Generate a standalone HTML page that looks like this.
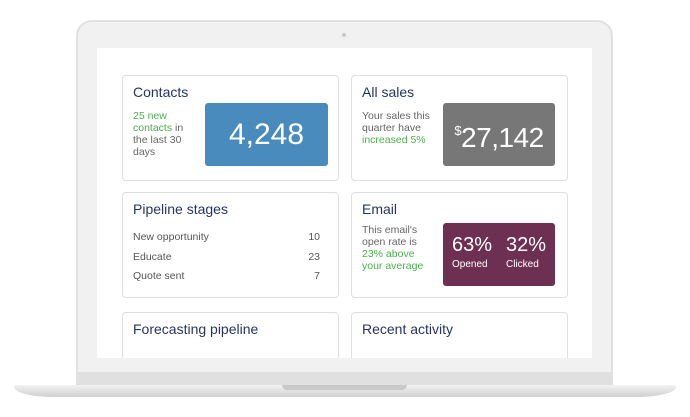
<!DOCTYPE html>
<html><head><meta charset="utf-8"><style>
*{margin:0;padding:0;box-sizing:border-box}
body{width:690px;height:417px;background:#fff;position:relative;overflow:hidden;font-family:"Liberation Sans",sans-serif}
div{position:absolute}
.card{background:#fff;border:1px solid #dcdfe3;border-radius:4px}
.t{color:#253463;font-size:14px;left:10px;top:8px;white-space:nowrap}
.p{font-size:10.5px;line-height:12px;color:#666}
.g{color:#4cb04c}
.row{font-size:10.5px;color:#555;left:10px;right:18px}
.row span{position:absolute;right:0}
</style></head><body>
<div style="left:76px;top:20px;width:537px;height:366px;background:#f1f1f1;border:2px solid #e1e1e1;border-radius:16px 16px 0 0"></div>
<div style="left:342px;top:33px;width:4px;height:4px;border-radius:2px;background:#c8c8c8"></div>
<div style="left:97px;top:48px;width:495px;height:310px;background:#fff;overflow:hidden">
 <div class="card" style="left:25px;top:27px;width:217px;height:106px">
  <div class="t">Contacts</div>
  <div class="p" style="left:10px;top:34px;width:62px"><span class="g">25 new contacts</span> in the last 30 days</div>
  <div style="left:82px;top:27px;width:123px;height:63px;background:#4a8bbe;border-radius:3px;color:#fff;font-size:30px;text-align:center;line-height:63px">4,248</div>
 </div>
 <div class="card" style="left:254px;top:27px;width:217px;height:106px">
  <div class="t">All sales</div>
  <div class="p" style="left:10px;top:34px;width:78px">Your sales this quarter have <span class="g">increased 5%</span></div>
  <div style="left:91px;top:27px;width:112px;height:63px;background:#777;border-radius:3px;color:#fff;font-size:28px;text-align:center;line-height:56px;letter-spacing:-0.5px;overflow:hidden"><sup style="font-size:13px;vertical-align:12px">$</sup>27,142</div>
 </div>
 <div class="card" style="left:25px;top:144px;width:217px;height:106px">
  <div class="t">Pipeline stages</div>
  <div class="row" style="top:38px">New opportunity<span>10</span></div>
  <div class="row" style="top:58px">Educate<span>23</span></div>
  <div class="row" style="top:77px">Quote sent<span>7</span></div>
 </div>
 <div class="card" style="left:254px;top:144px;width:217px;height:106px">
  <div class="t">Email</div>
  <div class="p" style="left:10px;top:31px;width:72px">This email's open rate is <span class="g">23% above your average</span></div>
  <div style="left:91px;top:30px;width:112px;height:63px;background:#6e3052;border-radius:3px;color:#fff">
   <div style="left:9px;top:11px;font-size:20px">63%</div>
   <div style="left:9px;top:36px;font-size:10px">Opened</div>
   <div style="left:63px;top:11px;font-size:20px">32%</div>
   <div style="left:63px;top:36px;font-size:10px">Clicked</div>
  </div>
 </div>
 <div class="card" style="left:25px;top:264px;width:217px;height:80px">
  <div class="t">Forecasting pipeline</div>
 </div>
 <div class="card" style="left:254px;top:264px;width:217px;height:80px">
  <div class="t">Recent activity</div>
 </div>
</div>
<div style="left:78px;top:372px;width:533px;height:14px;background:#e0e0e0"></div>
<div style="left:14px;top:385px;width:662px;height:12px;background:linear-gradient(#f2f2f2,#d0d0d0);border-radius:2px 2px 40px 40px/2px 2px 10px 10px"></div>
<div style="left:282px;top:385px;width:125px;height:5px;background:#c9c9c9;border-radius:0 0 5px 5px"></div>
</body></html>
